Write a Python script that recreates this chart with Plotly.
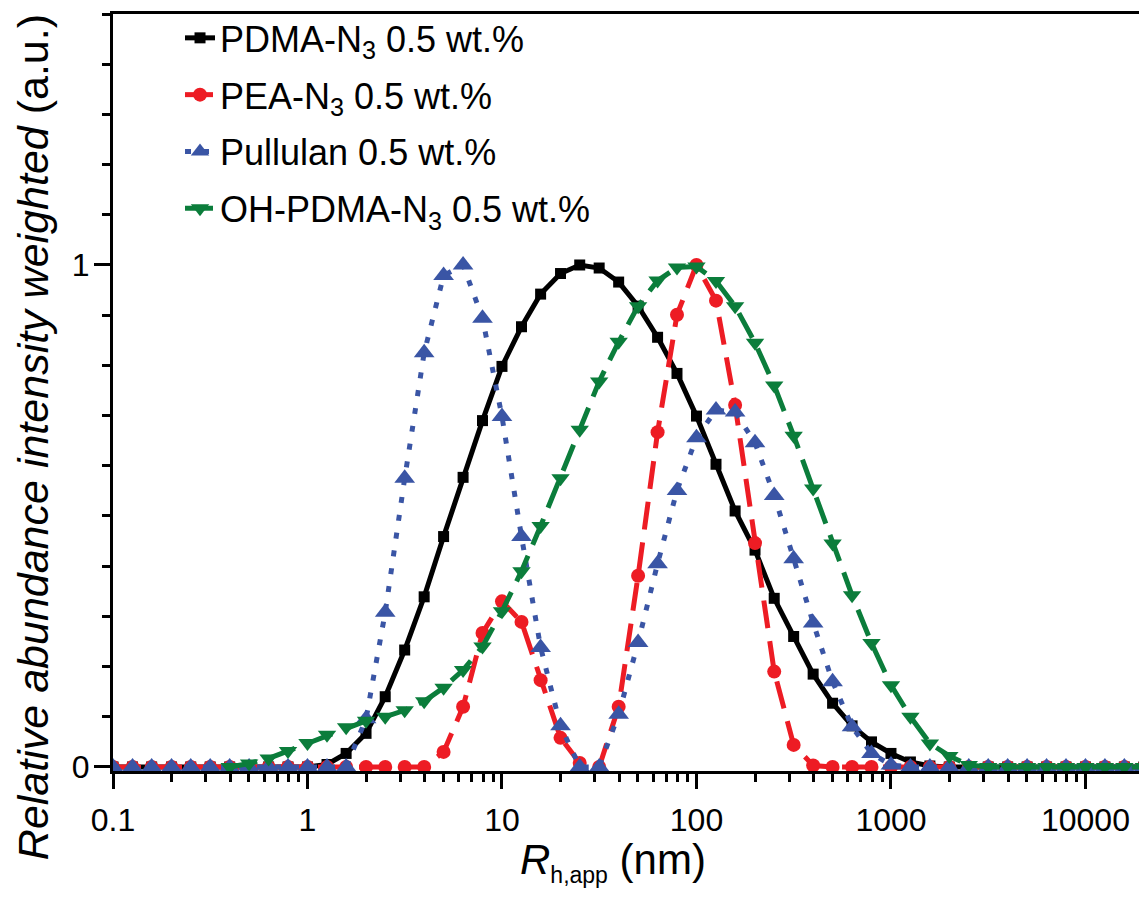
import plotly.graph_objects as go

# Hydrodynamic radius grid (nm)
r_h = [0.1, 0.126, 0.158, 0.2, 0.251, 0.316, 0.398, 0.501, 0.631, 0.794,
       1.0, 1.26, 1.58, 2.0, 2.51, 3.16, 3.98, 5.01, 6.31, 7.94,
       10, 12.6, 15.8, 20.0, 25.1, 31.6, 39.8, 50.1, 63.1, 79.4,
       100, 126, 158, 200, 251, 316, 398, 501, 631, 794,
       1000, 1259, 1585, 1995, 2512, 3162, 3981, 5012, 6310, 7943,
       10000, 12589, 15849, 19953]

pdma_n3 = [0, 0, 0, 0, 0, 0, 0, 0, 0, 0,
           0, 0.005, 0.027, 0.067, 0.140, 0.233, 0.339, 0.459, 0.577, 0.690,
           0.798, 0.877, 0.942, 0.983, 1.0, 0.994, 0.966, 0.918, 0.856, 0.784,
           0.699, 0.603, 0.510, 0.432, 0.336, 0.260, 0.185, 0.127, 0.082, 0.050,
           0.027, 0.010, 0.002, 0, 0, 0, 0, 0, 0, 0,
           0, 0, 0, 0]

pea_n3 = [0, 0, 0, 0, 0, 0, 0, 0, 0, 0,
          0, 0, 0, 0, 0, 0, 0, 0.03, 0.12, 0.267,
          0.33, 0.289, 0.173, 0.058, 0.008, 0.0, 0.12, 0.381, 0.667, 0.901,
          1.0, 0.929, 0.721, 0.446, 0.19, 0.044, 0.003, 0, 0, 0,
          0, 0, 0, 0, 0, 0, 0, 0, 0, 0,
          0, 0, 0, 0]

pullulan = [0, 0, 0, 0, 0, 0, 0, 0, 0, 0,
            0, 0, 0, 0.096, 0.308, 0.575, 0.825, 0.979, 1.0, 0.894,
            0.698, 0.459, 0.238, 0.082, 0.0, 0.0, 0.105, 0.248, 0.405, 0.551,
            0.656, 0.711, 0.707, 0.646, 0.541, 0.415, 0.287, 0.170, 0.080, 0.027,
            0.004, 0, 0, 0, 0, 0, 0, 0, 0, 0,
            0, 0, 0, 0]

oh_pdma_n3 = [None, None, None, None, None, None, 0.0, 0.007, 0.017, 0.032,
              0.048, 0.064, 0.079, 0.092, 0.100, 0.113, 0.131, 0.158, 0.193, 0.240,
              0.31, 0.39, 0.48, 0.575, 0.672, 0.768, 0.847, 0.918, 0.969, 0.995,
              0.997, 0.968, 0.918, 0.845, 0.76, 0.66, 0.555, 0.445, 0.342, 0.247,
              0.163, 0.100, 0.047, 0.022, 0.004, 0, 0, 0, 0, 0,
              0, 0, 0, 0]

names = ["PDMA-N<sub>3</sub> 0.5 wt.%", "PEA-N<sub>3</sub> 0.5 wt.%",
         "Pullulan 0.5 wt.%", "OH-PDMA-N<sub>3</sub> 0.5 wt.%"]

x_tickvals = [0.1, 1, 10, 100, 1000, 10000]
x_ticktext = ["0.1", "1", "10", "100", "1000", "10000"]
x_minor = [m * d for d in [0.1, 1, 10, 100, 1000, 10000] for m in range(2, 10) if m * d <= 20000]
y_tickvals = [0, 1]
y_minor = [0.1, 0.2, 0.3, 0.4, 0.5, 0.6, 0.7, 0.8, 0.9, 1.1, 1.2, 1.3, 1.4, 1.5]

x_title = "<i>R</i><sub><span style='font-size:23px'>h,app</span></sub> (nm)"
y_title = "<i>Relative abundance intensity weighted</i> (a.u.)"

BLACK = "#000000"
RED = "#ED1C24"
BLUE = "#3A55A5"
GREEN = "#0B7D3B"

fig = go.Figure()
fig.add_trace(go.Scatter(x=r_h, y=pdma_n3, name=names[0], mode="lines+markers",
                         line=dict(color=BLACK, width=5),
                         marker=dict(symbol="square", size=11, color=BLACK),
                         legendgroup="a"))
fig.add_trace(go.Scatter(x=r_h, y=pea_n3, name=names[1], mode="lines+markers",
                         line=dict(color=RED, width=5, dash="28px,13px"),
                         marker=dict(symbol="circle", size=14, color=RED),
                         legendgroup="b"))
fig.add_trace(go.Scatter(x=r_h, y=pullulan, name=names[2], mode="lines+markers",
                         line=dict(color=BLUE, width=5, dash="6px,12px"),
                         marker=dict(symbol="triangle-up", size=18, color=BLUE),
                         legendgroup="c"))
fig.add_trace(go.Scatter(x=r_h, y=oh_pdma_n3, name=names[3], mode="lines+markers",
                         line=dict(color=GREEN, width=5, dash="28px,12px"),
                         marker=dict(symbol="triangle-down", size=16, color=GREEN),
                         legendgroup="d"))

FONT = "Liberation Sans, Arial, sans-serif"

fig.update_layout(
    width=1139, height=901,
    margin=dict(l=105, r=3, t=6, b=138, autoexpand=False),
    paper_bgcolor="white", plot_bgcolor="white",
    font=dict(family=FONT, color="black"),
    showlegend=True,
    legend=dict(x=0.065, y=1.008, xanchor="left", yanchor="top",
                bgcolor="rgba(0,0,0,0)", borderwidth=0,
                font=dict(size=36, family=FONT), tracegroupgap=7,
                itemwidth=30),
    xaxis=dict(type="log", range=[-1, 4.301], automargin=False,
               tickvals=x_tickvals, ticktext=x_ticktext,
               ticks="outside", ticklen=15, tickwidth=3, tickcolor="black",
               minor=dict(tickvals=x_minor, ticks="outside", ticklen=8,
                          tickwidth=3, tickcolor="black", showgrid=False),
               showline=True, linewidth=3, linecolor="black", mirror=True,
               showgrid=False, zeroline=False,
               tickfont=dict(size=32, family=FONT), ticklabelstandoff=4),
    yaxis=dict(range=[-0.008, 1.5], automargin=False,
               tickvals=y_tickvals, ticktext=["0", "1"],
               ticks="outside", ticklen=16, tickwidth=3, tickcolor="black",
               minor=dict(tickvals=y_minor, ticks="outside", ticklen=8,
                          tickwidth=3, tickcolor="black", showgrid=False),
               showline=True, linewidth=3, linecolor="black", mirror=True,
               showgrid=False, zeroline=False,
               tickfont=dict(size=32, family=FONT), ticklabelstandoff=-2),
    annotations=[
        dict(text=x_title, xref="paper", yref="paper", x=0.485, y=0,
             xanchor="center", yanchor="top", yshift=-63, showarrow=False,
             font=dict(size=42, family=FONT)),
        dict(text=y_title, xref="paper", yref="paper", x=0, y=0.441,
             xanchor="center", yanchor="middle", xshift=-80, textangle=-90,
             showarrow=False, font=dict(size=43, family=FONT)),
    ],
)

fig.write_html("out.html")
